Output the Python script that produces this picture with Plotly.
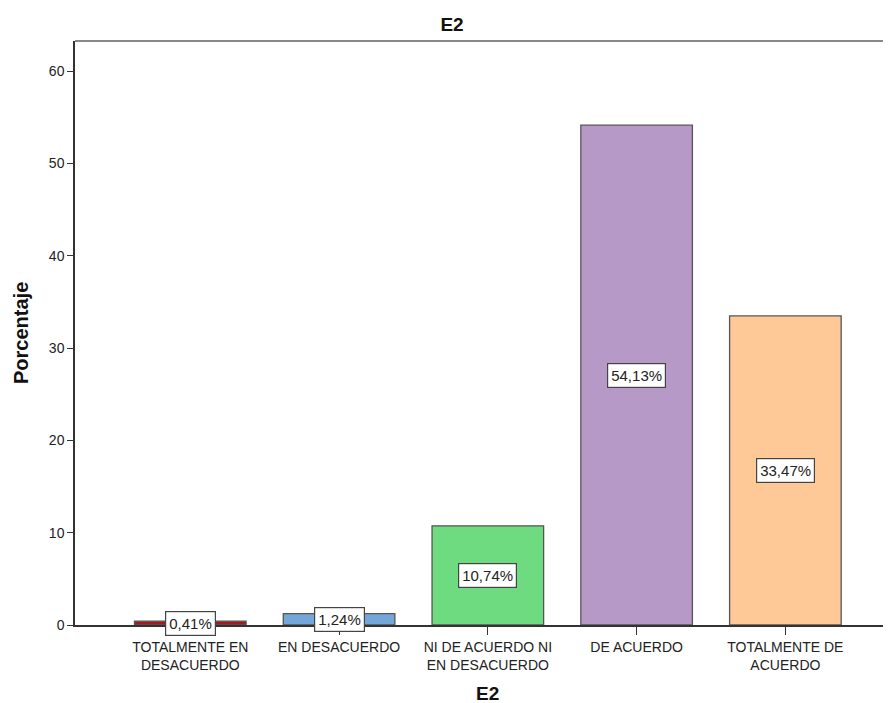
import plotly.graph_objects as go

categories = ["TOTALMENTE EN<br>DESACUERDO", "EN DESACUERDO", "NI DE ACUERDO NI<br>EN DESACUERDO",
              "DE ACUERDO", "TOTALMENTE DE<br>ACUERDO"]
porcentaje = [0.41, 1.24, 10.74, 54.13, 33.47]
etiquetas = ["0,41%", "1,24%", "10,74%", "54,13%", "33,47%"]
colores = ["#A31A1A", "#73A7DA", "#6FDB80", "#B799C8", "#FFC997"]
y_ticks = [0, 10, 20, 30, 40, 50, 60]

FONT = "Liberation Sans, Arial"
# page body has an 8px margin, so the figure is drawn 8px in and 8px smaller
W, H = 883, 695

fig = go.Figure()

fig.add_trace(go.Bar(
    x=list(range(len(categories))),
    y=porcentaje,
    width=0.75,
    marker=dict(color=colores, line=dict(color="#555555", width=1.3)),
    hoverinfo="none",
    showlegend=False,
))

# data labels centred at half height, boxed like SPSS
for i, (v, t) in enumerate(zip(porcentaje, etiquetas)):
    fig.add_annotation(
        x=i, y=v / 2, text=t, showarrow=False,
        font=dict(family=FONT, size=15, color="#222222"),
        bgcolor="white", bordercolor="#444444", borderwidth=1.2, borderpad=3,
    )

# axis titles
fig.add_annotation(x=0.5, xref="paper", y=0, yref="paper", yshift=-68,
                   text="<b>E2</b>", showarrow=False, yanchor="middle",
                   xshift=4, font=dict(family=FONT, size=19, color="#111111"))
fig.add_annotation(x=0, xref="paper", y=0.5, yref="paper", xshift=-54,
                   text="<b>Porcentaje</b>", textangle=-90, showarrow=False,
                   xanchor="center", font=dict(family=FONT, size=20, color="#111111"))

# top frame line (grey)
fig.add_shape(type="line", xref="paper", yref="paper", x0=0, x1=1, y0=1, y1=1,
              line=dict(color="#888888", width=2))

fig.update_layout(
    width=W, height=H,
    margin=dict(l=67, r=0, t=33, b=78),
    plot_bgcolor="white", paper_bgcolor="white",
    font=dict(family=FONT, size=14, color="#222222"),
    title=dict(text="<b>E2</b>", x=444 / W, xanchor="center", y=1 - 16 / H, yanchor="middle",
               font=dict(size=19, color="#111111")),
    xaxis=dict(
        range=[-0.775, 4.71],
        tickvals=list(range(len(categories))),
        ticktext=categories,
        ticks="outside", ticklen=8, tickcolor="#333333",
        showline=True, linecolor="#333333", linewidth=1.5,
        showgrid=False, zeroline=False, automargin=False,
        tickfont=dict(size=14),
    ),
    yaxis=dict(
        range=[0, 63.25],
        tickvals=y_ticks,
        ticks="outside", ticklen=6, tickcolor="#333333",
        showline=True, linecolor="#333333", linewidth=1.5,
        showgrid=False, zeroline=False, automargin=False,
        tickfont=dict(size=14),
    ),
)

fig.write_html("out.html")
